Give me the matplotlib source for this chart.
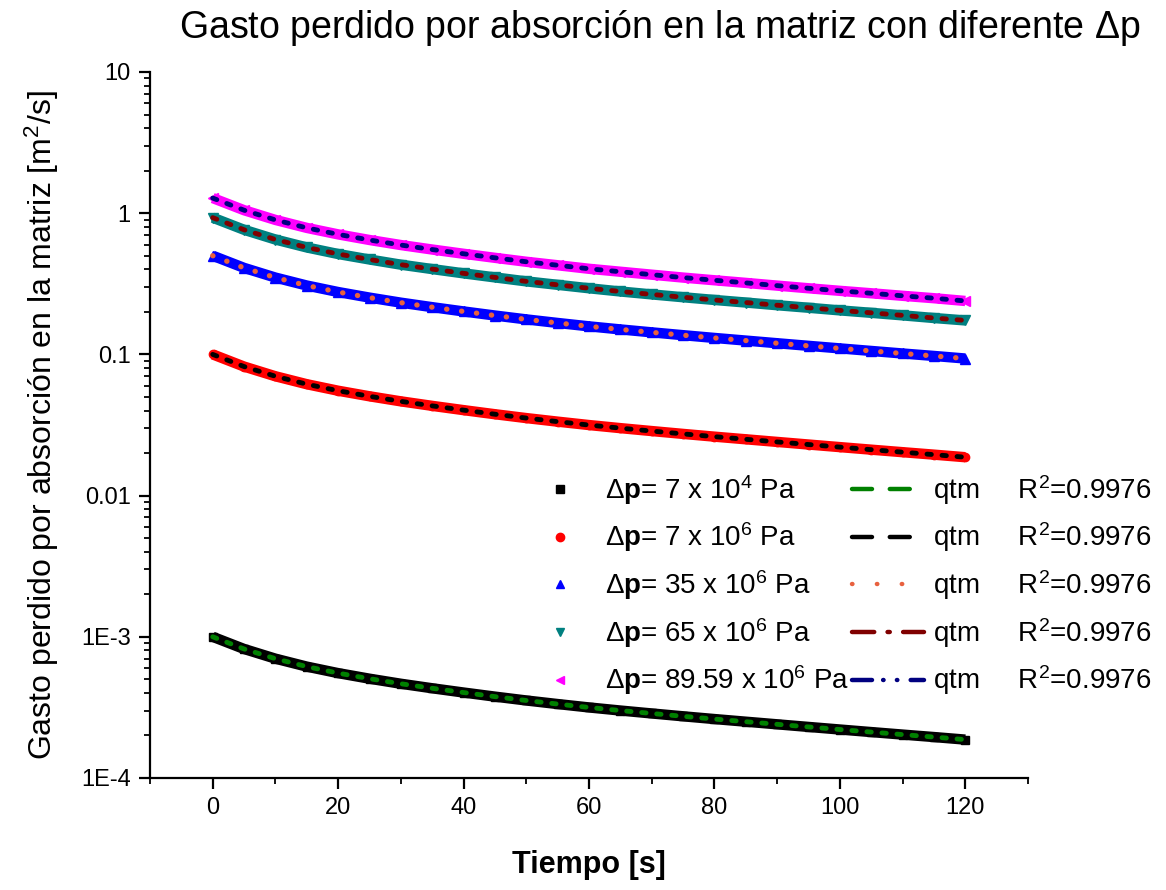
import numpy as np
import matplotlib
matplotlib.use("Agg")
import matplotlib.pyplot as plt
from matplotlib.lines import Line2D
from matplotlib.ticker import FixedLocator, FixedFormatter, MultipleLocator, LogLocator, NullFormatter

plt.rcParams['font.family'] = ['Liberation Sans', 'DejaVu Sans']
plt.rcParams['mathtext.fontset'] = 'custom'
plt.rcParams['mathtext.rm'] = 'Liberation Sans'
plt.rcParams['mathtext.it'] = 'Liberation Sans:italic'
plt.rcParams['mathtext.bf'] = 'Liberation Sans:bold'

# time [s]
t = [0, 5, 10, 15, 20, 25, 30, 35, 40, 45, 50, 55, 60,
     65, 70, 75, 80, 85, 90, 95, 100, 105, 110, 115, 120]

# lost flow rate [m^2/s] for each pressure drop
q_7e4 = [1.0e-3, 8.2e-4, 7.0e-4, 6.15e-4, 5.53e-4, 5.05e-4, 4.65e-4, 4.32e-4, 4.03e-4,
         3.77e-4, 3.54e-4, 3.34e-4, 3.16e-4, 3.005e-4, 2.865e-4, 2.735e-4, 2.615e-4,
         2.505e-4, 2.40e-4, 2.30e-4, 2.205e-4, 2.115e-4, 2.03e-4, 1.95e-4, 1.87e-4]
q_7e6 = [0.100, 0.082, 0.070, 0.0615, 0.0553, 0.0505, 0.0465, 0.0432, 0.0403,
         0.0377, 0.0354, 0.0334, 0.0316, 0.03005, 0.02865, 0.02735, 0.02615,
         0.02505, 0.0240, 0.0230, 0.02205, 0.02115, 0.0203, 0.0195, 0.0187]
q_35e6 = [0.50, 0.41, 0.35, 0.3075, 0.2765, 0.2525, 0.2325, 0.216, 0.2015,
          0.1885, 0.177, 0.167, 0.158, 0.1503, 0.1433, 0.1368, 0.1308,
          0.1253, 0.120, 0.115, 0.1103, 0.1058, 0.1015, 0.0975, 0.0935]
q_65e6 = [0.93, 0.763, 0.651, 0.572, 0.514, 0.470, 0.432, 0.402, 0.375,
          0.351, 0.329, 0.311, 0.294, 0.279, 0.266, 0.254, 0.243,
          0.233, 0.223, 0.214, 0.205, 0.197, 0.189, 0.181, 0.174]
q_8959e6 = [1.28, 1.05, 0.896, 0.787, 0.708, 0.646, 0.595, 0.553, 0.516,
            0.483, 0.453, 0.428, 0.404, 0.385, 0.367, 0.350, 0.335,
            0.321, 0.307, 0.294, 0.282, 0.271, 0.260, 0.250, 0.239]

series = [q_7e4, q_7e6, q_35e6, q_65e6, q_8959e6]
labels = [r'$\Delta\mathbf{p}$= 7 x 10$^4$ Pa',
          r'$\Delta\mathbf{p}$= 7 x 10$^6$ Pa',
          r'$\Delta\mathbf{p}$= 35 x 10$^6$ Pa',
          r'$\Delta\mathbf{p}$= 65 x 10$^6$ Pa',
          r'$\Delta\mathbf{p}$= 89.59 x 10$^6$ Pa']
fit_label = r'qtm     R$^2$=0.9976'

data_colors = ['black', 'red', 'blue', '#008080', 'magenta']
data_markers = ['s', 'o', '^', 'v', '<']
marker_sizes = [6, 6, 7.5, 7.5, 7.5]
fit_colors = ['green', 'black', '#E8613F', '#800000', '#000080']

fig = plt.figure(figsize=(11.66, 8.9), dpi=100)
ax = fig.add_axes([150/1166, 1-778/890, 878/1166, 706/890])

for q, c, m, s in zip(series, data_colors, data_markers, marker_sizes):
    ax.plot(t, q, color=c, lw=7.5, marker=m, ms=s, mec=c, mfc=c,
            solid_capstyle='butt', solid_joinstyle='round', zorder=2)

for i, (q, c) in enumerate(zip(series, fit_colors)):
    if i == 2:
        ax.plot(t, q, color=c, lw=3.8, dashes=(0.05, 2.8),
                dash_capstyle='round', zorder=3)
    else:
        ax.plot(t, q, color=c, lw=3.5, dashes=(0.9, 2.2),
                dash_capstyle='round', zorder=3)

ax.set_yscale('log')
ax.set_ylim(1e-4, 10)
ax.set_xlim(-10, 130)

ax.yaxis.set_major_locator(FixedLocator([1e-4, 1e-3, 1e-2, 1e-1, 1, 10]))
ax.yaxis.set_major_formatter(FixedFormatter(['1E-4', '1E-3', '0.01', '0.1', '1', '10']))
ax.yaxis.set_minor_locator(LogLocator(base=10, subs=np.arange(2, 10)))
ax.yaxis.set_minor_formatter(NullFormatter())
ax.xaxis.set_major_locator(FixedLocator([0, 20, 40, 60, 80, 100, 120]))
ax.xaxis.set_minor_locator(MultipleLocator(10))

for side in ['top', 'right']:
    ax.spines[side].set_visible(False)
for side in ['left', 'bottom']:
    ax.spines[side].set_linewidth(1.6)

ax.tick_params(which='major', direction='out', length=8, width=1.6,
               labelsize=17, pad=6)
ax.tick_params(which='minor', direction='out', length=4.5, width=1.3)

ax.set_xlabel('Tiempo [s]', fontsize=22, fontweight='bold', labelpad=22)
ax.set_ylabel(r'Gasto perdido por absorción en la matriz [m$^2$/s]', fontsize=23, labelpad=14)
fig.text(660/1166, 1-28/890, r'Gasto perdido por absorción en la matriz con diferente $\Delta$p',
         fontsize=27, ha='center', va='center')

# legend: markers in the first column, fitted curves in the second
data_handles = [Line2D([], [], ls='none', marker=m, color=c, ms=6)
                for c, m in zip(data_colors, data_markers)]
fit_styles = [(0, (4.5, 4.0)), (0, (4.5, 4.0)), (0, (0.1, 5.5)),
              (0, (5.0, 3.0, 0.5, 3.0)), (0, (4.5, 2.5, 0.1, 3.0, 0.1, 3.0))]
fit_handles = [Line2D([], [], color=c, lw=3.2, ls=s, dash_capstyle='round')
               for c, s in zip(fit_colors, fit_styles)]

ax.legend(data_handles + fit_handles, labels + [fit_label] * 5,
          ncol=2, loc='upper left', bbox_to_anchor=(510/1166, 1-459/890),
          bbox_transform=fig.transFigure, frameon=False, fontsize=20,
          handlelength=2.6, handletextpad=0.32, labelspacing=0.5,
          columnspacing=0.1, borderpad=0)

fig.savefig('out.png', dpi=100)
